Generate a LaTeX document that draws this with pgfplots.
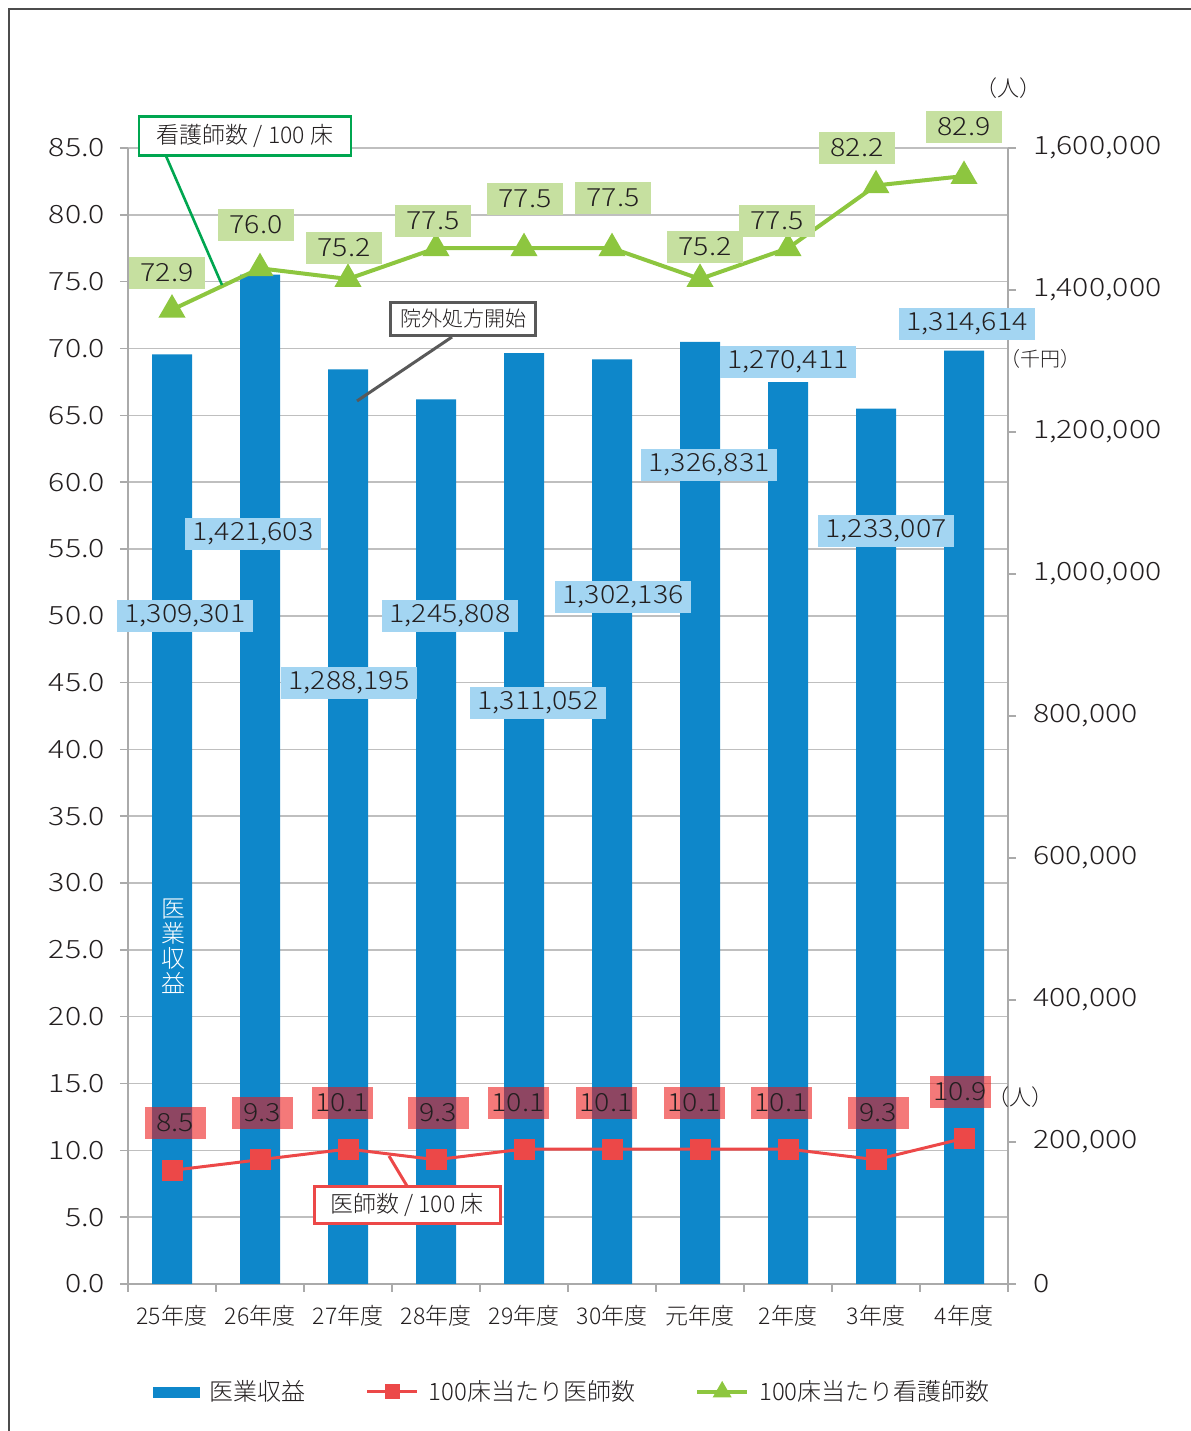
\documentclass[border=0pt]{standalone}
\usepackage{fontspec}
\IfFontExistsTF{Noto Sans CJK JP Light}{%
  \setmainfont{Noto Sans CJK JP Light}%
  \newfontfamily\numfont{Noto Sans CJK JP Light}[FakeStretch=1.14]%
  \newfontfamily\tickfont{Noto Sans CJK JP Light}[FakeStretch=1.2]%
}{%
  \setmainfont{Noto Sans CJK JP}%
  \newfontfamily\numfont{Noto Sans CJK JP}[FakeStretch=1.12]%
  \newfontfamily\tickfont{Noto Sans CJK JP}[FakeStretch=1.16]%
}
\usepackage{pgfplots}
\usepackage{pgfplotstable}
\pgfplotsset{compat=1.18}
\definecolor{barblue}{RGB}{14,135,202}
\definecolor{lred}{RGB}{236,72,72}
\definecolor{lgreen}{RGB}{141,198,63}
\definecolor{gbox}{RGB}{198,224,160}
\definecolor{bbox}{RGB}{163,213,242}
\definecolor{rbox}{RGB}{236,24,24}
\definecolor{callgreen}{RGB}{0,166,80}
\definecolor{callgray}{RGB}{89,89,89}
\definecolor{gridgray}{RGB}{191,191,191}
\definecolor{axgray}{RGB}{170,170,170}
\definecolor{txt}{RGB}{35,31,32}

\pgfplotstableread{
x rev doc nur
0 1309301 8.5 72.9
1 1421603 9.3 76.0
2 1288195 10.1 75.2
3 1245808 9.3 77.5
4 1311052 10.1 77.5
5 1302136 10.1 77.5
6 1326831 10.1 75.2
7 1270411 10.1 77.5
8 1233007 9.3 82.2
9 1314614 10.9 82.9
}\data

\pgfplotsset{
  base/.style={
    at={(64pt,73.5pt)}, anchor=south west, scale only axis,
    width=440pt, height=568pt, xmin=-0.5, xmax=9.5,
    /pgf/number format/assume math mode=true,
    tick align=outside, major tick length=4pt,
    axis line style={draw=axgray, line width=0.75pt},
    tick style={draw=axgray, line width=0.75pt},
  },
}

\begin{document}
\begin{tikzpicture}
\useasboundingbox (0,0) rectangle (595pt,715.5pt);

% left scale: grid, left axis, category axis
\begin{axis}[base, ymin=0, ymax=85,
  axis x line*=bottom, axis y line*=left,
  ytick={0,5,...,85}, ymajorgrids,
  grid style={draw=gridgray, line width=0.75pt},
  yticklabel style={/pgf/number format/.cd, fixed, fixed zerofill, precision=1, /tikz/.cd,
    font=\tickfont\fontsize{12.6}{12.6}\selectfont, text=txt, xshift=-4pt},
  xtick={-0.5,0.5,...,9.5},
  xticklabels={25年度,26年度,27年度,28年度,29年度,30年度,元年度,2年度,3年度,4年度},
  x tick label as interval,
  xticklabel style={font=\fontsize{11.5}{11.5}\selectfont, text=txt, yshift=-3pt},
]
\end{axis}

% right scale: bars
\begin{axis}[base, ymin=0, ymax=1600000,
  axis x line=none, axis y line*=right,
  ytick={0,200000,...,1600000}, scaled y ticks=false,
  yticklabel style={/pgf/number format/.cd, fixed, precision=0, 1000 sep={,}, /tikz/.cd,
    font=\tickfont\fontsize{12.6}{12.6}\selectfont, text=txt, xshift=5pt},
]
\addplot[ybar, bar width=20pt, fill=barblue, draw=none] table[x=x, y=rev] {\data};
\end{axis}

% left scale: lines + legend
\begin{axis}[base, ymin=0, ymax=85, hide axis,
  legend columns=3,
  legend style={at={(0.506,-0.095)}, anchor=center, draw=none, fill=none,
    font=\fontsize{12}{12}\selectfont, text=txt,
    /tikz/every even column/.append style={column sep=28pt}},
]
\addlegendimage{legend image code/.code={\fill[barblue] (0pt,-2.5pt) rectangle (23pt,2.5pt); \path (26pt,0pt);}}
\addlegendentry{医業収益}
\addplot[lred, line width=1.5pt, mark=square*, mark size=4.5pt,
  legend image code/.code={\draw[mark repeat=2, mark phase=2, mark size=3pt] plot coordinates {(0pt,0pt) (12.5pt,0pt) (25pt,0pt)}; \path (28pt,0pt);}]
  table[x=x, y=doc] {\data};
\addlegendentry{100床当たり医師数}
\addplot[lgreen, line width=2pt, mark=triangle*, mark size=5.8pt,
  legend image code/.code={\draw[mark repeat=2, mark phase=2, mark size=3.5pt] plot coordinates {(0pt,0pt) (12.5pt,0pt) (25pt,0pt)}; \path (28pt,0pt);}]
  table[x=x, y=nur] {\data};
\addlegendentry{100床当たり看護師数}
\end{axis}

\begin{scope}[x=0.5pt, y=-0.5pt, yshift=715.5pt,
  lab/.style={inner sep=0pt, minimum height=16pt, text=txt, font=\numfont\fontsize{12.5}{12.5}\selectfont},
  gl/.style={lab, fill=gbox, minimum width=38pt},
  bl/.style={lab, fill=bbox, minimum width=68pt},
  rl/.style={lab, fill=rbox, fill opacity=0.58, text opacity=1, minimum width=30.5pt}]
% frame
\draw[line width=1pt, color=black!70] (9,1440) -- (9,9) -- (1200,9);

% green labels
\node[gl] at (167,273) {72.9};
\node[gl] at (256,225) {76.0};
\node[gl] at (344,248) {75.2};
\node[gl] at (433,221) {77.5};
\node[gl] at (525,199) {77.5};
\node[gl] at (613,198) {77.5};
\node[gl] at (705,247) {75.2};
\node[gl] at (777,221) {77.5};
\node[gl] at (857,148) {82.2};
\node[gl] at (964,127) {82.9};

% blue labels
\node[bl] at (185,616) {1,309,301};
\node[bl] at (253,534) {1,421,603};
\node[bl] at (349,683) {1,288,195};
\node[bl] at (450,616) {1,245,808};
\node[bl] at (538,703) {1,311,052};
\node[bl] at (623,597) {1,302,136};
\node[bl] at (709,465) {1,326,831};
\node[bl] at (788,362) {1,270,411};
\node[bl] at (886,531) {1,233,007};
\node[bl] at (967,324) {1,314,614};

% red labels
\node[rl] at (175,1123) {8.5};
\node[rl] at (262,1113) {9.3};
\node[rl] at (342,1103) {10.1};
\node[rl] at (438,1113) {9.3};
\node[rl] at (518,1103) {10.1};
\node[rl] at (606,1103) {10.1};
\node[rl] at (694,1103) {10.1};
\node[rl] at (781,1103) {10.1};
\node[rl] at (878,1113) {9.3};
\node[rl] at (960,1092) {10.9};

% callouts
\draw[callgreen, line width=1.3pt] (166,156) -- (222,285);
\node[draw=callgreen, line width=1.3pt, fill=white, minimum width=106pt, minimum height=19.5pt, inner sep=0pt,
  font=\fontsize{11.5}{11.5}\selectfont, text=txt] at (245,136) {看護師数 / 100 床};
\draw[callgray, line width=1.5pt] (452,337) -- (357,401);
\node[draw=callgray, line width=1.5pt, fill=white, minimum width=72.5pt, minimum height=16.5pt, inner sep=0pt,
  font=\fontsize{10.5}{10.5}\selectfont, text=txt] at (463,319) {院外処方開始};
\draw[lred, line width=1.5pt] (407,1186) -- (389,1156);
\node[draw=lred, line width=1.5pt, fill=white, minimum width=93pt, minimum height=18.5pt, inner sep=0pt,
  font=\fontsize{11.5}{11.5}\selectfont, text=txt] at (407,1205) {医師数 / 100 床};

% vertical bar label
\node[text=white, align=center, inner sep=0pt, font=\fontsize{12}{12.5}\selectfont] at (173,946) {医\\業\\収\\益};

% units
\node[text=txt, inner sep=0pt, font=\fontsize{11}{11}\selectfont] at (1008,88) {（人）};
\node[text=txt, inner sep=0pt, font=\fontsize{10}{10}\selectfont] at (1040,359) {（千円）};
\node[text=txt, inner sep=0pt, font=\fontsize{11}{11}\selectfont] at (1020,1097) {（人）};
\end{scope}
\end{tikzpicture}
\end{document}
